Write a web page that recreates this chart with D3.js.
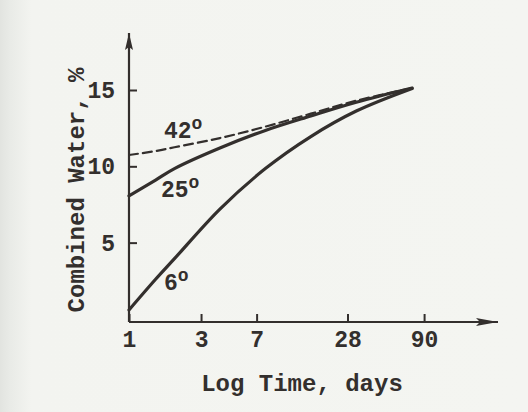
<!DOCTYPE html>
<html>
<head>
<meta charset="utf-8">
<script src="https://cdn.jsdelivr.net/npm/d3@7"></script>
<style>
  html, body { margin: 0; padding: 0; background: #f3f4f0; }
  svg { display: block; }
  text { font-family: "Liberation Mono", "DejaVu Sans Mono", monospace; font-weight: bold; fill: #332f2d; }
</style>
</head>
<body>
<svg id="chart" width="528" height="412"></svg>
<script>
// ---- data ----
const days = [1, 1.5, 2, 4, 8, 16, 32, 75];
const water42 = [10.74, 11.0, 11.25, 11.85, 12.6, 13.45, 14.3, 15.13];
const water25 = [8.06, 9.1, 9.85, 11.2, 12.35, 13.3, 14.2, 15.13];
const water6  = [0.59, 2.6, 3.95, 7.2, 9.85, 11.95, 13.62, 15.1];
const xTickValues = [1, 3, 7, 28, 90];
const yTickValues = [5, 10, 15];

const svg = d3.select("#chart");
const ink = "#332f2d";

const x = d3.scaleLog().domain([1, 100]).range([129, 431]);
const y = d3.scaleLinear().domain([-0.2, 15]).range([322, 90]);

// paper background
const defs = svg.append("defs");
const grad = defs.append("linearGradient").attr("id", "paper").attr("x1", 0).attr("x2", 1).attr("y1", 0).attr("y2", 0);
grad.append("stop").attr("offset", "0").attr("stop-color", "#e2e4e0");
grad.append("stop").attr("offset", "0.02").attr("stop-color", "#e9ebe7");
grad.append("stop").attr("offset", "0.06").attr("stop-color", "#f3f4f0");
grad.append("stop").attr("offset", "1").attr("stop-color", "#f4f5f1");
svg.append("rect").attr("width", 528).attr("height", 412).attr("fill", "url(#paper)");

// arrow markers
defs.append("marker").attr("id", "arrX").attr("viewBox", "0 0 22 8")
  .attr("refX", 22).attr("refY", 4).attr("markerWidth", 22).attr("markerHeight", 8)
  .attr("markerUnits", "userSpaceOnUse").attr("orient", "auto")
  .append("path").attr("d", "M0,0 L22,4 L0,8 L4,4 Z").attr("fill", ink);
defs.append("marker").attr("id", "arrY").attr("viewBox", "0 0 17 8")
  .attr("refX", 17).attr("refY", 4).attr("markerWidth", 17).attr("markerHeight", 8)
  .attr("markerUnits", "userSpaceOnUse").attr("orient", "auto")
  .append("path").attr("d", "M0,0 L17,4 L0,8 L3,4 Z").attr("fill", ink);

// axis lines with arrows
svg.append("line").attr("x1", 129).attr("y1", 322).attr("x2", 498).attr("y2", 322)
  .attr("stroke", ink).attr("stroke-width", 2.2).attr("marker-end", "url(#arrX)");
svg.append("line").attr("x1", 129).attr("y1", 322).attr("x2", 129).attr("y2", 33)
  .attr("stroke", ink).attr("stroke-width", 2.2).attr("marker-end", "url(#arrY)");

// x axis
const xAxis = d3.axisBottom(x).tickValues(xTickValues).tickFormat(d3.format("d"))
  .tickSizeInner(-8).tickSizeOuter(0).tickPadding(9);
const gx = svg.append("g").attr("transform", "translate(0,322)").call(xAxis);
gx.select(".domain").remove();
gx.selectAll(".tick line").attr("stroke", ink).attr("stroke-width", 2);
gx.selectAll(".tick text").attr("font-size", 23).attr("fill", ink)
  .style("font-family", "'Liberation Mono', monospace").style("font-weight", "bold");

// y axis
const yAxis = d3.axisLeft(y).tickValues(yTickValues).tickFormat(d3.format("d"))
  .tickSizeInner(-8).tickSizeOuter(0).tickPadding(14);
const gy = svg.append("g").attr("transform", "translate(129,0)").call(yAxis);
gy.select(".domain").remove();
gy.selectAll(".tick line").attr("stroke", ink).attr("stroke-width", 2);
gy.selectAll(".tick text").attr("font-size", 23).attr("fill", ink)
  .style("font-family", "'Liberation Mono', monospace").style("font-weight", "bold");

// curves
const line = d3.line().x(d => x(d[0])).y(d => y(d[1])).curve(d3.curveCatmullRom.alpha(0.5));
const series = [
  { vals: water42, dash: "9,5", w: 2.2 },
  { vals: water25, dash: null, w: 3.2 },
  { vals: water6, dash: null, w: 3.2 }
];
series.forEach(s => {
  svg.append("path").datum(days.map((d, i) => [d, s.vals[i]]))
    .attr("d", line).attr("fill", "none").attr("stroke", ink)
    .attr("stroke-width", s.w).attr("stroke-linecap", "round")
    .attr("stroke-dasharray", s.dash);
});

// curve labels
function degLabel(px, py, num) {
  const t = svg.append("text").attr("x", px).attr("y", py).attr("font-size", 23);
  t.append("tspan").text(num);
  t.append("tspan").attr("dy", -9).attr("font-size", 18).text("o");
}
degLabel(164, 138, "42");
degLabel(161, 197, "25");
degLabel(164, 290, "6");

// axis titles
svg.append("text").attr("x", 302).attr("y", 391).attr("text-anchor", "middle")
  .attr("font-size", 24).text("Log Time, days");
svg.append("text").attr("transform", "translate(84,190) rotate(-90)")
  .attr("text-anchor", "middle").attr("font-size", 24).text("Combined Water, %");
</script>
</body>
</html>
